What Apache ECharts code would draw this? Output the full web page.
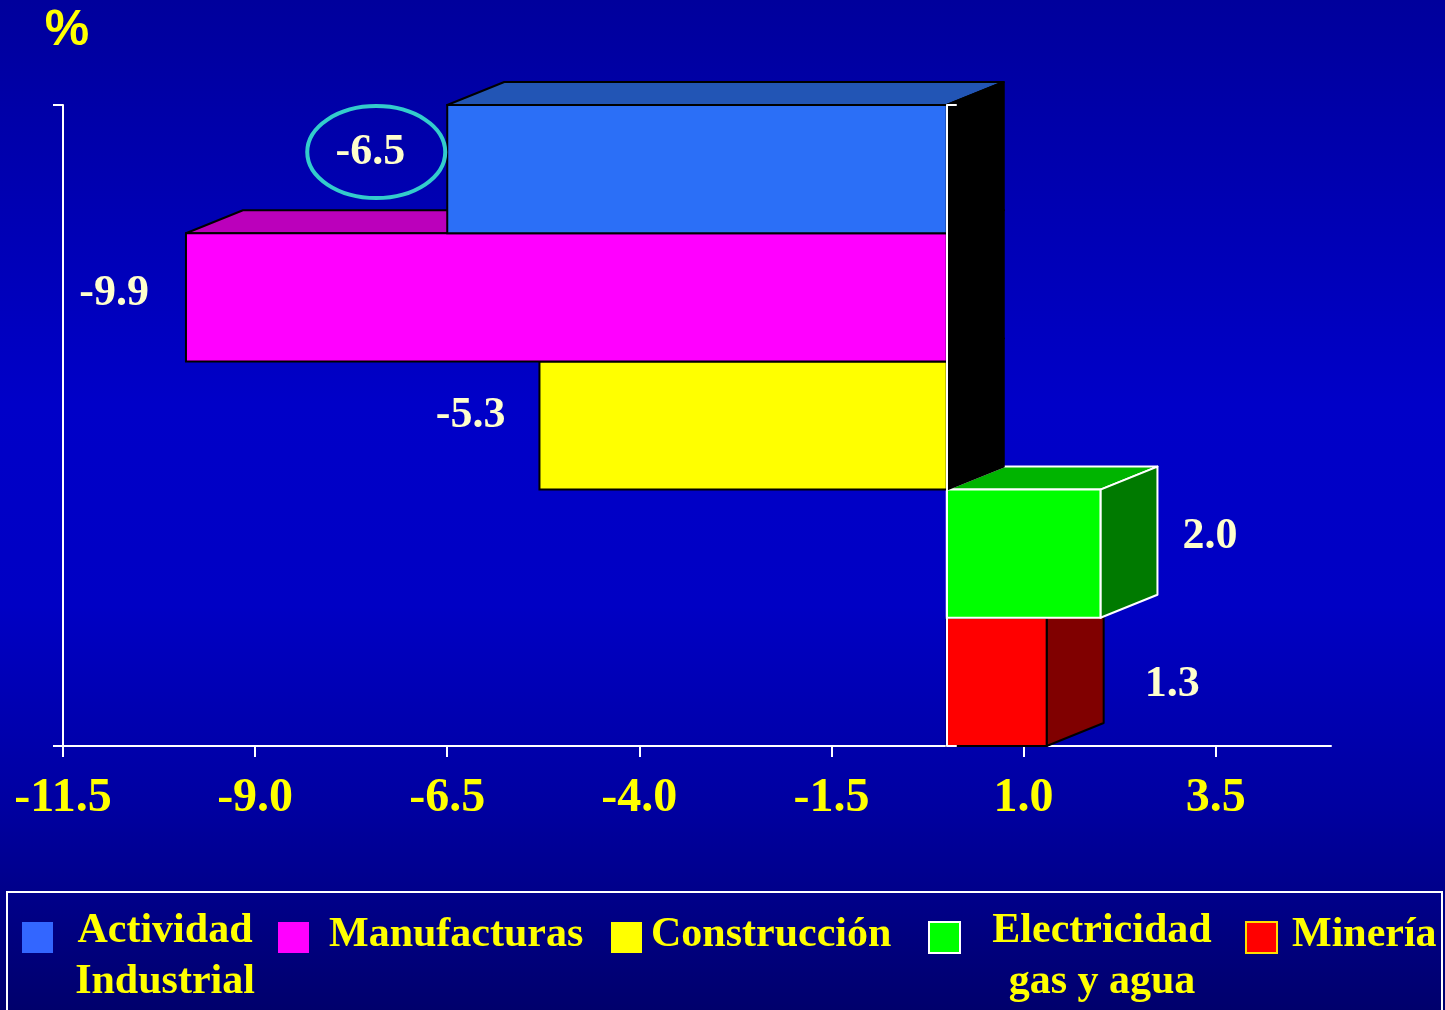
<!DOCTYPE html>
<html>
<head>
<meta charset="utf-8">
<script src="https://cdn.jsdelivr.net/npm/echarts@6/dist/echarts.min.js"></script>
<style>
html,body{margin:0;padding:0;background:#000080;}
#chart{width:1445px;height:1010px;}
</style>
</head>
<body>
<div id="chart"></div>
<script>
// ---- data ----
const categories = ['Actividad Industrial', 'Manufacturas', 'Construcción', 'Electricidad gas y agua', 'Minería'];
const legendLabels = ['Actividad\nIndustrial', 'Manufacturas', 'Construcción', 'Electricidad\ngas y agua', 'Minería'];
const values = [-6.5, -9.9, -5.3, 2.0, 1.3];
const xTicks = [-11.5, -9.0, -6.5, -4.0, -1.5, 1.0, 3.5];
const highlighted = 'Actividad Industrial';
const unitLabel = '%';

// ---- styles ----
const frontColors = ['#2b6ff7', '#ff00ff', '#ffff00', '#00ff00', '#ff0000'];
const topColors   = ['#2255b5', '#bb00bb', '#b8b800', '#00b400', '#b00000'];
const sideColors  = ['#000000', '#000000', '#000000', '#007a00', '#800000'];
const edgeColors  = ['#000000', '#000000', '#000000', '#ffffff', '#000000'];
const swatchColors = ['#3366ff', '#ff00ff', '#ffff00', '#00ff00', '#ff0000'];
const swatchStroke = [null, null, null, '#ffffff', '#ffdd00'];
const labelGap = [42, 37, 34, 25, 41];
const labelDy = [-16, -4, -10, -17, 3];
const depthX = 57, depthY = -23;
const serif = '"Liberation Serif", "Times New Roman", "DejaVu Serif", serif';

// legend layout
const swatchX = [22, 278, 611, 929, 1246];
const legendTextX = [165, 329, 651, 1102, 1292];
const legendAlign = ['center', 'left', 'left', 'center', 'left'];

const n = categories.length;
const axisCats = categories.slice().reverse();
const seriesData = categories.map((c, i) => [values[i], c]).reverse();

function renderItem(params, api) {
  const idx = n - 1 - params.dataIndex;
  const v = api.value(0);
  const ci = api.value(1);
  const p0 = api.coord([0, ci]);
  const p1 = api.coord([v, ci]);
  const band = api.size([0, 1])[1];
  const yTop = p0[1] - band / 2, yBot = p0[1] + band / 2;
  const xL = Math.min(p0[0], p1[0]), xR = Math.max(p0[0], p1[0]);
  const edge = edgeColors[idx];
  const children = [
    { type: 'polygon', shape: { points: [[xL, yTop], [xR, yTop], [xR + depthX, yTop + depthY], [xL + depthX, yTop + depthY]] },
      style: { fill: topColors[idx], stroke: edge, lineWidth: 2, lineJoin: 'round' } },
    { type: 'polygon', shape: { points: [[xR, yTop], [xR, yBot], [xR + depthX, yBot + depthY], [xR + depthX, yTop + depthY]] },
      style: { fill: sideColors[idx], stroke: edge, lineWidth: 2, lineJoin: 'round' } },
    { type: 'rect', shape: { x: xL, y: yTop, width: xR - xL, height: yBot - yTop },
      style: { fill: frontColors[idx], stroke: edge, lineWidth: 2 } }
  ];
  const ly = p0[1] + labelDy[idx];
  let lx, align;
  if (v < 0) { lx = xL - labelGap[idx]; align = 'right'; }
  else { lx = xR + depthX + labelGap[idx]; align = 'left'; }
  children.push({ type: 'text', x: lx, y: ly,
    style: { text: v.toFixed(1), fill: '#ffffcc', font: 'bold 44px ' + serif, align: align, verticalAlign: 'middle' } });
  if (categories[idx] === highlighted) {
    children.push({ type: 'ellipse', shape: { cx: lx - 29, cy: ly - 1, rx: 69, ry: 46 },
      style: { fill: 'none', stroke: '#33cccc', lineWidth: 4 } });
  }
  return { type: 'group', children: children };
}

// legend graphics
const graphics = [
  { type: 'rect', shape: { x: 7, y: 892, width: 1435, height: 140 }, style: { fill: 'none', stroke: '#ffffff', lineWidth: 2 } },
  { type: 'text', x: 67, y: 31, style: { text: unitLabel, fill: '#ffff00', font: 'bold 50px "Liberation Sans", Arial, sans-serif', align: 'center', verticalAlign: 'middle' } }
];
legendLabels.forEach((lab, i) => {
  graphics.push({ type: 'rect', shape: { x: swatchX[i], y: 922, width: 31, height: 31 },
    style: { fill: swatchColors[i], stroke: swatchStroke[i] || null, lineWidth: 2 } });
  const twoLine = lab.indexOf('\n') >= 0;
  graphics.push({ type: 'text', x: legendTextX[i], y: twoLine ? 957 : 935,
    style: { text: lab, fill: '#ffff00', font: 'bold 42px ' + serif, lineHeight: 51, align: legendAlign[i], verticalAlign: 'middle' } });
});

const yTick = { show: true, interval: function (i) { return i === 0; }, length: 10, lineStyle: { color: '#ffffff', width: 2 } };

const option = {
  backgroundColor: {
    type: 'linear', x: 0, y: 0, x2: 0, y2: 1,
    colorStops: [
      { offset: 0, color: '#00009c' },
      { offset: 0.4, color: '#0000c8' },
      { offset: 0.6, color: '#0000c4' },
      { offset: 0.8, color: '#0000a0' },
      { offset: 1, color: '#00006c' }
    ]
  },
  animation: false,
  grid: { left: 63, right: 114, top: 105, bottom: 264, containLabel: false },
  xAxis: {
    type: 'value', min: -11.5, max: 5,
    axisLine: { show: true, onZero: false, lineStyle: { color: '#ffffff', width: 2 } },
    axisTick: { show: true, customValues: xTicks, length: 11, lineStyle: { color: '#ffffff', width: 2 } },
    axisLabel: { customValues: xTicks, formatter: v => v.toFixed(1), color: '#ffff00', fontFamily: serif, fontWeight: 'bold', fontSize: 48, margin: 29 },
    splitLine: { show: false }
  },
  yAxis: [
    { type: 'category', data: axisCats,
      axisLine: { show: true, onZero: false, lineStyle: { color: '#ffffff', width: 2 } },
      axisTick: yTick, axisLabel: { show: false }, splitLine: { show: false } },
    { type: 'category', data: axisCats, position: 'left', z: 10,
      axisLine: { show: true, onZero: true, lineStyle: { color: '#ffffff', width: 2 } },
      axisTick: Object.assign({}, yTick, { inside: true }), axisLabel: { show: false }, splitLine: { show: false } }
  ],
  graphic: graphics,
  series: [{
    type: 'custom', name: 'valores', data: seriesData, encode: { x: 0, y: 1 },
    renderItem: renderItem, clip: false, z: 2
  }]
};

const chart = echarts.init(document.getElementById('chart'), null, { renderer: 'canvas' });
chart.setOption(option);
</script>
</body>
</html>
